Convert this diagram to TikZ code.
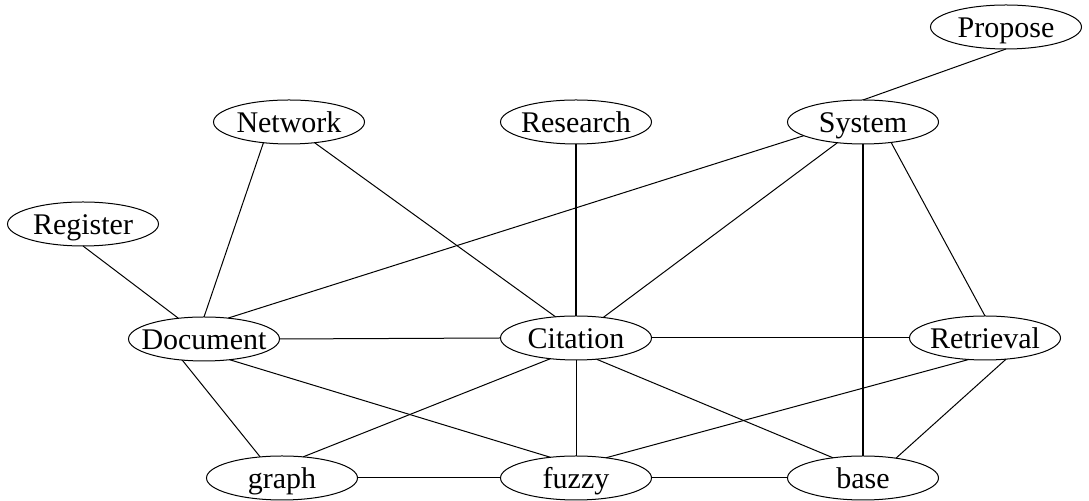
\documentclass[tikz,border=0pt]{standalone}
\usepackage{fontspec}
\setmainfont{Liberation Serif}
\usetikzlibrary{shapes.geometric}
\begin{document}
\begin{tikzpicture}[x=0.5pt,y=-0.5pt,
  nd/.style={draw, ellipse, line width=0.5pt, minimum width=75.5pt, minimum height=22pt,
    inner sep=0pt, outer sep=0pt, text height=10.5pt, text depth=0pt,
    font=\fontsize{15pt}{18pt}\selectfont},
  ed/.style={line width=0.5pt},
  edthick/.style={line width=0.8pt}]
\useasboundingbox (0,0) rectangle (1089,501);
% nodes
\node[nd] (Propose)   at (1006,27)  {\makebox[0pt]{Propose}};
\node[nd] (System)    at (863,122)  {\makebox[0pt]{System}};
\node[nd] (Network)   at (289,122)  {\makebox[0pt]{Network}};
\node[nd] (Research)  at (576,122)  {\makebox[0pt]{Research}};
\node[nd] (Register)  at (83,224)   {\makebox[0pt]{Register}};
\node[nd] (Document)  at (204,339)  {\makebox[0pt]{Document}};
\node[nd] (Citation)  at (576,338)  {\makebox[0pt]{Citation}};
\node[nd] (Retrieval) at (985,338)  {\makebox[0pt]{Retrieval}};
\node[nd] (graph)     at (282,478)  {\makebox[0pt]{graph}};
\node[nd] (fuzzy)     at (576,478)  {\makebox[0pt]{fuzzy}};
\node[nd] (base)      at (863,478)  {\makebox[0pt]{base}};
% edges
\draw[ed] (Propose.270) -- (System.90);
\draw[ed] (Network.219) -- (Document.90);
\draw[ed] (Network.321) -- (Citation.134);
\draw[edthick] (Research.270) -- (Citation.90);
\draw[ed] (System.193) -- (Document.41);
\draw[ed] (System.219) -- (Citation.37);
\draw[edthick] (System.270) -- (base.90);
\draw[ed] (System.324) -- (Retrieval.90);
\draw[ed] (Register.270) -- (Document.141);
\draw[ed] (Document.0) -- (Citation.180);
\draw[ed] (Document.224) -- (graph.136);
\draw[ed] (Document.321) -- (fuzzy.141);
\draw[ed] (Citation.0) -- (Retrieval.180);
\draw[ed] (Citation.219) -- (graph.45);
\draw[ed] (Citation.270) -- (fuzzy.90);
\draw[ed] (Citation.314) -- (base.146);
\draw[ed] (Retrieval.233) -- (fuzzy.34);
\draw[ed] (Retrieval.315) -- (base.31);
\draw[ed] (graph.0) -- (fuzzy.180);
\draw[ed] (fuzzy.0) -- (base.180);
\end{tikzpicture}
\end{document}
